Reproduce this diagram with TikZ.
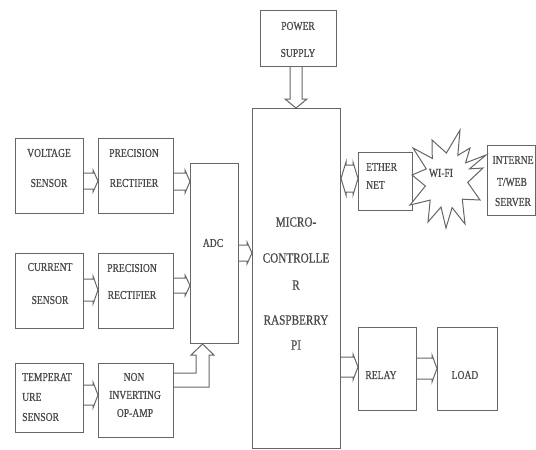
\documentclass[tikz,border=0pt]{standalone}
\usepackage{fontspec}
\setmainfont{Liberation Serif}[FakeStretch=0.8, FakeBold=0.7]
\usetikzlibrary{calc}
\definecolor{linec}{HTML}{666666}
\definecolor{txtc}{HTML}{4A4A4A}
% right-pointing hollow arrow from node #1 to node #2, shaft lines at image y #3 and #4
\newcommand\harrowR[4]{%
  \draw[conn] (#1.east |- 0,#3) -- ($(#2.west |- 0,#3)+(-5,0)$) -- ++(0,-3)
    -- ($(#2.west |- 0,#3)!0.5!(#2.west |- 0,#4)$)
    -- ($(#2.west |- 0,#4)+(-5,3)$) -- ++(0,-3) -- (#1.east |- 0,#4);}
\begin{document}
\begin{tikzpicture}[x=1pt,y=-1pt,
  box/.style={draw=linec, line width=1pt, inner sep=0pt, anchor=north west},
  lbl/.style={text=txtc, font=\fontsize{12}{12}\selectfont, inner sep=0pt, anchor=center},
  biglbl/.style={text=txtc, font=\fontsize{14}{14}\selectfont, inner sep=0pt, anchor=center},
  conn/.style={draw=linec, line width=1pt, line join=miter}]
\useasboundingbox (0,0) rectangle (536,450);
\fill[white] (0,0) rectangle (536,450);

% boxes
\node[box, minimum width=76, minimum height=56] (ps) at (260,10) {};
\node[box, minimum width=88, minimum height=340] (mc) at (252,108) {};
\node[box, minimum width=68, minimum height=75] (vs) at (15,138) {};
\node[box, minimum width=75, minimum height=75] (pr1) at (98,138) {};
\node[box, minimum width=48, minimum height=180] (adc) at (190,163) {};
\node[box, minimum width=68, minimum height=75] (cs) at (15,253) {};
\node[box, minimum width=75, minimum height=75] (pr2) at (98,253) {};
\node[box, minimum width=68, minimum height=69] (ts) at (15,363) {};
\node[box, minimum width=75, minimum height=74] (op) at (98,363) {};
\node[box, minimum width=54, minimum height=58] (eth) at (358,152) {};
\node[box, minimum width=48, minimum height=70] (inet) at (487,145) {};
\node[box, minimum width=58, minimum height=83] (rel) at (358,327) {};
\node[box, minimum width=60, minimum height=83] (load) at (437,327) {};

% Wi-Fi starburst
\draw[conn, fill=white] (483,168) -- (467.7,182.4) -- (480,200) -- (462.3,199.2)
  -- (465,224) -- (452.1,207.6) -- (446,228) -- (441,207) -- (428,222)
  -- (430.2,200.1) -- (410,205) -- (425.4,186) -- (412,175) -- (426.3,168.9)
  -- (413,148) -- (432.3,158.4) -- (432,140) -- (446.4,153) -- (460,130)
  -- (457.8,155.4) -- (470,148) -- (465.6,162.9) -- (486,155) -- (469.5,168.9) -- cycle;

% labels
\node[lbl] (psa) at (298,26) {POWER};
\node[lbl] (psb) at (298,53) {SUPPLY};
\node[lbl] (vsa) at (49,153) {VOLTAGE};
\node[lbl] (vsb) at (49,183) {SENSOR};
\node[lbl] (pr1a) at (134,153) {PRECISION};
\node[lbl] (pr1b) at (134,183) {RECTIFIER};
\node[lbl] (csa) at (50,267) {CURRENT};
\node[lbl] (csb) at (50,300) {SENSOR};
\node[lbl] (pr2a) at (132,268) {PRECISION};
\node[lbl] (pr2b) at (132,295) {RECTIFIER};
\node[lbl, anchor=west] (tsa) at (22,377) {TEMPERAT};
\node[lbl, anchor=west] (tsb) at (22,397) {URE};
\node[lbl, anchor=west] (tsc) at (22,417) {SENSOR};
\node[lbl] (opa) at (134,377) {NON};
\node[lbl] (opb) at (135,395) {INVERTING};
\node[lbl] (opc) at (135,413) {OP-AMP};
\node[lbl] (adcl) at (213,243) {ADC};
\node[biglbl] (mca) at (296,222) {MICRO-};
\node[biglbl] (mcb) at (296,258) {CONTROLLE};
\node[biglbl] (mcc) at (296,285) {R};
\node[biglbl] (mcd) at (296,320) {RASPBERRY};
\node[biglbl] (mce) at (296,345) {PI};
\node[lbl, anchor=west] (etha) at (366,167) {ETHER};
\node[lbl, anchor=west] (ethb) at (366,185) {NET};
\node[lbl] (wifi) at (441,173) {WI-FI};
\node[lbl] (ineta) at (513,160) {INTERNE};
\node[lbl] (inetb) at (512,182) {T/WEB};
\node[lbl] (inetc) at (513,202) {SERVER};
\node[lbl] (rell) at (381,375) {RELAY};
\node[lbl] (loadl) at (465,375) {LOAD};

% connectors
\harrowR{vs}{pr1}{173}{189}
\harrowR{pr1}{adc}{173}{190}
\harrowR{cs}{pr2}{279}{301}
\harrowR{pr2}{adc}{278}{293}
\harrowR{ts}{op}{385}{405}
\harrowR{adc}{mc}{245}{261}
\harrowR{mc}{rel}{357}{377}
\harrowR{rel}{load}{358}{379}

% power supply -> micro
\draw[conn] (ps.south -| 290,0) -- ($(mc.north -| 290,0)+(0,-9)$) -- ++(-5,0)
  -- (mc.north -| 296,0) -- ($(mc.north -| 302,0)+(5,-9)$) -- ++(-5,0)
  -- (ps.south -| 302,0);

% op-amp -> ADC (elbow)
\draw[conn] (op.east |- 0,387) -- (209,387) -- ($(adc.south -| 209,0)+(0,11)$) -- ++(5,0)
  -- (adc.south -| 202.5,0) -- ($(adc.south -| 191,0)+(0,11)$) -- ++(5,0)
  -- (196,373) -- (op.east |- 0,373);

% micro <-> ethernet (double headed)
\draw[conn] ($(mc.east |- 0,165)+(5,0)$) -- ($(eth.west |- 0,165)+(-5,0)$) -- ++(0,-3)
  -- (eth.west |- 0,178.5) -- ($(eth.west |- 0,192)+(-5,3)$) -- ++(0,-3)
  -- ($(mc.east |- 0,192)+(5,0)$) -- ++(0,3) -- (mc.east |- 0,178.5)
  -- ($(mc.east |- 0,165)+(5,-3)$) -- cycle;
\end{tikzpicture}
\end{document}
